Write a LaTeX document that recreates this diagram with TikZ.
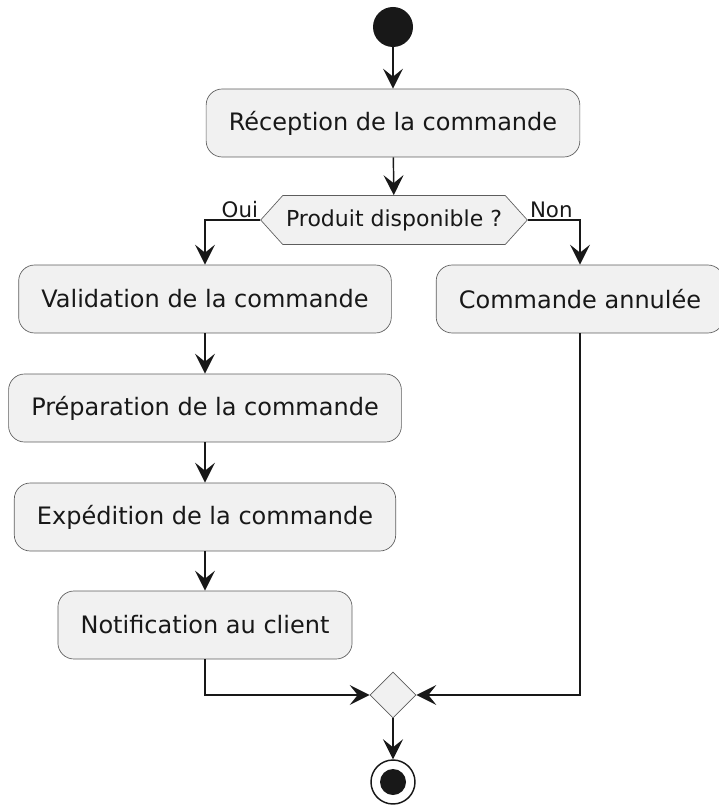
\documentclass[tikz,border=0pt]{standalone}
\usepackage{fontspec}
\setmainfont{DejaVu Sans}
\usetikzlibrary{arrows.meta,shapes.geometric,shapes.symbols}
\definecolor{actfill}{HTML}{F1F1F1}
\definecolor{ink}{HTML}{181818}
\tikzset{
    act/.style={rounded corners=12pt, draw=ink!70, line width=0.5pt, fill=actfill, text=ink,
        inner xsep=17pt, minimum height=51pt, font=\fontsize{18}{22}\selectfont},
    guard/.style={text=ink, inner sep=1.5pt, font=\fontsize{16}{19}\selectfont},
    flow/.style={draw=ink, line width=1.1pt, -{Stealth[length=15pt,width=15pt,inset=6pt]}},
}

\begin{document}
\begin{tikzpicture}[x=0.75pt,y=-0.75pt]
        \useasboundingbox (0,0) rectangle (718,805);

        \node[circle,fill=ink,minimum size=30pt,inner sep=0pt] (start) at (393,27) {};
        \node[act] (recep) at (393,123) {Réception de la commande};
        \node[signal, signal to=west and east, signal pointer angle=96, draw=ink!70, fill=actfill,
            line width=0.5pt, inner xsep=2.5pt, minimum height=36.75pt, text=ink,
            font=\fontsize{16.5}{19}\selectfont] (dispo) at (394,220) {Produit disponible ?};
        \node[guard, anchor=south east] (oui) at (dispo.west) {Oui};
        \node[guard, anchor=south west] (non) at (dispo.east) {Non};

        \foreach \n/\y/\t in {valid/299/Validation de la commande, prep/408/Préparation de la commande,
            exped/517/Expédition de la commande, notif/625/Notification au client}
            {
                \node[act] (\n) at (205,\y) {\t};
            }
        \node[act] (annul) at (580,299) {Commande annulée};

        \node[diamond,draw=ink!70,fill=actfill,line width=0.5pt,minimum size=34.5pt,inner sep=0pt] (merge) at (393,695) {};
        \node[circle,draw=ink,line width=1.1pt,fill=white,minimum size=33pt,inner sep=0pt] (stop) at (393,782) {};
        \node[circle,fill=ink,minimum size=19.5pt,inner sep=0pt] (stopdot) at (stop) {};

        \draw[flow] (start) -- (recep);
        \draw[flow] (recep) -- (dispo);
        \draw[flow] (dispo.west) -| (valid.north);
        \draw[flow] (dispo.east) -| (annul.north);
        \foreach \a/\b in {valid/prep, prep/exped, exped/notif}
            {
                \draw[flow] (\a) -- (\b);
            }
        \draw[flow] (notif.south) |- (merge.west);
        \draw[flow] (annul.south) |- (merge.east);
        \draw[flow] (merge) -- (stop);
    \end{tikzpicture}
\end{document}
